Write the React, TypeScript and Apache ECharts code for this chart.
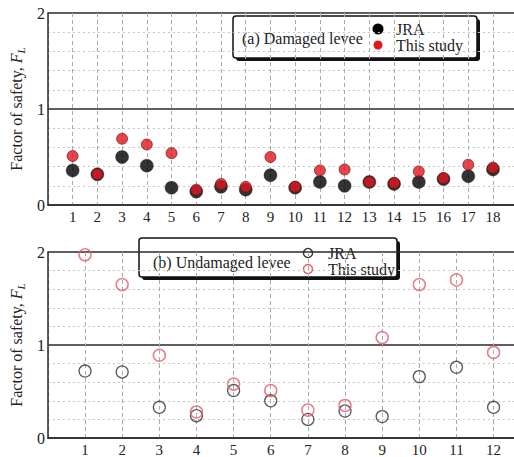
import React, { useEffect, useRef } from "react";
import * as echarts from "echarts";

const damagedSites = [1, 2, 3, 4, 5, 6, 7, 8, 9, 10, 11, 12, 13, 14, 15, 16, 17, 18];
const damagedJRA = [0.36, 0.32, 0.5, 0.41, 0.18, 0.14, 0.19, 0.16, 0.31, 0.18, 0.24, 0.2, 0.24, 0.22, 0.24, 0.27, 0.3, 0.37];
const damagedStudy = [0.51, 0.32, 0.69, 0.63, 0.54, 0.16, 0.22, 0.19, 0.5, 0.19, 0.36, 0.37, 0.24, 0.23, 0.35, 0.28, 0.42, 0.39];

const undamagedSites = [1, 2, 3, 4, 5, 6, 7, 8, 9, 10, 11, 12];
const undamagedJRA = [0.72, 0.71, 0.33, 0.24, 0.51, 0.4, 0.2, 0.29, 0.23, 0.66, 0.76, 0.33];
const undamagedStudy = [1.97, 1.65, 0.89, 0.28, 0.58, 0.51, 0.3, 0.35, 1.08, 1.65, 1.7, 0.92];

const seriesNames = ["JRA", "This study"];
const panelTitles = ["(a) Damaged levee", "(b) Undamaged levee"];
const yAxisTitle = "Factor of safety, ";

const FONT = "Liberation Serif";
const DARK = "#2a2a2a";
const RED = "#e3151f";
const PINK = "#e2606c";

function pairs(xs: number[], ys: number[]) {
  return xs.map((x, i) => [x, ys[i]]);
}

function makeXAxis(gridIndex: number, max: number, count: number) {
  return {
    type: "value",
    gridIndex,
    min: 0,
    max,
    interval: 1,
    axisLine: { show: true, onZero: false, lineStyle: { color: DARK, width: 1.5 } },
    axisTick: { show: false },
    axisLabel: {
      fontFamily: FONT,
      fontSize: 15,
      color: "#222",
      margin: 4,
      showMaxLabel: false,
      formatter: (v: number) => (v >= 1 && v <= count && Number.isInteger(v) ? String(v) : ""),
    },
    splitLine: { show: true, lineStyle: { color: "#aaa", type: [4, 3], width: 1 } },
  };
}

function makeYAxis(gridIndex: number) {
  return {
    type: "value",
    gridIndex,
    min: 0,
    max: 2,
    interval: 1,
    name: `{n|${yAxisTitle}}{i|F}{s|L}`,
    nameLocation: "middle",
    nameGap: 20,
    nameRotate: 90,
    nameTextStyle: {
      rich: {
        n: { fontFamily: FONT, fontSize: 16, color: "#222", lineHeight: 20 },
        i: { fontFamily: FONT, fontSize: 16, fontStyle: "italic", color: "#222", lineHeight: 20 },
        s: { fontFamily: FONT, fontSize: 11, fontStyle: "italic", color: "#222", lineHeight: 20, verticalAlign: "bottom", padding: [6, 0, 0, 0] },
      },
    },
    axisLine: { show: true, lineStyle: { color: DARK, width: 1.5 } },
    axisTick: { show: false },
    axisLabel: { fontFamily: FONT, fontSize: 16, color: "#222", margin: 3 },
    splitLine: { show: true, lineStyle: { color: DARK, width: 1.5 } },
    minorTick: { show: false, splitNumber: 5 },
    minorSplitLine: { show: true, lineStyle: { color: "#c4c4c4", type: [2, 3], width: 1 } },
  };
}

function txt(x: number, y: number, text: string) {
  return {
    type: "text",
    x,
    y,
    style: { text, fontFamily: FONT, fontSize: 16, fill: "#222", align: "left", verticalAlign: "middle" },
  };
}

function legendBox(x: number, y: number, w: number, h: number, title: string, filled: boolean, titleX: number, markerX: number, textX: number, row1: number, row2: number, titleY: number) {
  const children: any[] = [
    { type: "rect", shape: { x: x + 3, y: y + 3, width: w, height: h, r: 3 }, style: { fill: "#111" } },
    { type: "rect", shape: { x, y, width: w, height: h, r: 3 }, style: { fill: "#fff", stroke: "#111", lineWidth: 1.5 } },
    txt(titleX, titleY, title),
    txt(textX, row1, seriesNames[0]),
    txt(textX, row2, seriesNames[1]),
  ];
  if (filled) {
    children.push({ type: "circle", shape: { cx: markerX, cy: row1, r: 5.5 }, style: { fill: "#000" } });
    children.push({ type: "circle", shape: { cx: markerX, cy: row2, r: 4.5 }, style: { fill: RED } });
  } else {
    children.push({ type: "circle", shape: { cx: markerX, cy: row1, r: 4.5 }, style: { fill: "none", stroke: "#333", lineWidth: 1.3 } });
    children.push({ type: "circle", shape: { cx: markerX, cy: row2, r: 4.5 }, style: { fill: "none", stroke: PINK, lineWidth: 1.5 } });
  }
  return { type: "group", z: 100, children };
}

export default function App() {
  const ref = useRef<HTMLDivElement>(null);
  useEffect(() => {
    if (!ref.current) return;
    const chart = echarts.init(ref.current, undefined, { renderer: "svg" });
    chart.setOption({
      animation: false,
      backgroundColor: "#fff",
      textStyle: { fontFamily: FONT },
      grid: [
        { left: 44, right: 0, top: 13, height: 192 },
        { left: 44, right: 0, top: 252, height: 191 },
      ],
      xAxis: [makeXAxis(0, 18.85, damagedSites.length), makeXAxis(1, 12.55, undamagedSites.length)],
      yAxis: [makeYAxis(0), makeYAxis(1)],
      series: [
        {
          type: "scatter",
          name: seriesNames[0],
          xAxisIndex: 0,
          yAxisIndex: 0,
          data: pairs(damagedSites, damagedJRA),
          symbolSize: 13,
          itemStyle: { color: "#000", borderColor: "#222", borderWidth: 0.5 },
          z: 3,
        },
        {
          type: "scatter",
          name: seriesNames[1],
          xAxisIndex: 0,
          yAxisIndex: 0,
          data: pairs(damagedSites, damagedStudy),
          symbolSize: 11,
          itemStyle: { color: RED, borderColor: "#5a1414", borderWidth: 0.8 },
          z: 4,
        },
        {
          type: "scatter",
          name: seriesNames[0],
          xAxisIndex: 1,
          yAxisIndex: 1,
          data: pairs(undamagedSites, undamagedJRA),
          symbol: "circle",
          symbolSize: 12,
          itemStyle: { color: "rgba(255,255,255,0)", borderColor: "#333", borderWidth: 1.3 },
          z: 3,
        },
        {
          type: "scatter",
          name: seriesNames[1],
          xAxisIndex: 1,
          yAxisIndex: 1,
          data: pairs(undamagedSites, undamagedStudy),
          symbol: "circle",
          symbolSize: 12,
          itemStyle: { color: "rgba(255,255,255,0)", borderColor: PINK, borderWidth: 1.5 },
          z: 4,
        },
      ],
      graphic: [
        legendBox(233, 16, 244, 42, panelTitles[0], true, 242, 378, 396, 29, 45, 38),
        legendBox(139, 238, 258, 39, panelTitles[1], false, 153, 308, 328, 253, 269, 262),
      ],
    });
    return () => chart.dispose();
  }, []);
  return <div ref={ref} style={{ position: "fixed", left: 0, top: 0, width: 514, height: 457, background: "#fff" }} />;
}
